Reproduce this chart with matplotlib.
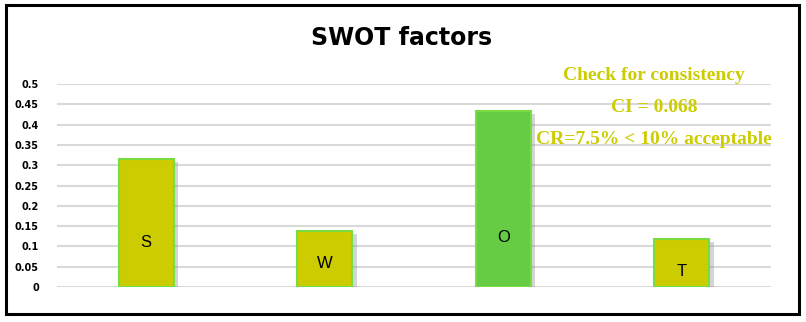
import matplotlib
matplotlib.use('Agg')
import matplotlib.pyplot as plt
import matplotlib.patheffects as pe
from matplotlib.patches import Rectangle

# data
factors = ['S', 'W', 'O', 'T']
weights = [0.315, 0.138, 0.433, 0.118]
label_y = [0.110, 0.059, 0.123, 0.037]
bar_colors = ['#cccc00', '#cccc00', '#66cc44', '#cccc00']
yticks = [0, 0.05, 0.1, 0.15, 0.2, 0.25, 0.3, 0.35, 0.4, 0.45, 0.5]
notes = ['Check for consistency', 'CI = 0.068', 'CR=7.5% < 10% acceptable']

fig = plt.figure(figsize=(8.06, 3.22), dpi=100)
W, H = 806, 322

# outer frame
fig.patches.append(Rectangle((6 / W, 1 - 314 / H), 793 / W, 309 / H,
                             transform=fig.transFigure, fill=False,
                             edgecolor='black', linewidth=2.2))

ax = fig.add_axes([57 / W, 1 - 287 / H, (771 - 57) / W, (287 - 84) / H])
x = range(len(factors))
bars = ax.bar(x, weights, width=0.31, color=bar_colors, edgecolor='#77dd44',
              linewidth=1.5, zorder=3)
for b in bars:
    b.set_path_effects([pe.SimplePatchShadow(offset=(3, -2), shadow_rgbFace='#888888', alpha=0.35),
                        pe.Normal()])

for i, f in enumerate(factors):
    ax.text(i, label_y[i], f, ha='center', va='center', fontsize=12,
            family='Liberation Sans', color='black', zorder=4)

ax.set_xlim(-0.5, 3.5)
ax.set_ylim(0, 0.5)
ax.set_yticks(yticks)
ax.set_yticklabels([('%g' % v) for v in yticks], fontsize=7, fontweight='bold')
ax.tick_params(axis='y', length=0, pad=13)
ax.set_xticks([])
ax.grid(axis='y', color='#d9d9d9', linewidth=1.5, zorder=0)
for s in ax.spines.values():
    s.set_visible(False)

fig.text(402 / W, 1 - 38 / H, 'SWOT factors', ha='center', va='center',
         fontsize=17, fontweight='bold', family='DejaVu Sans')

note_y = [75, 108, 140]
for t, yy in zip(notes, note_y):
    fig.text(654 / W, 1 - yy / H, t, ha='center', va='center', fontsize=14,
             fontweight='bold', family='Liberation Serif', color='#cccc00')

fig.savefig('out.png', dpi=100)
